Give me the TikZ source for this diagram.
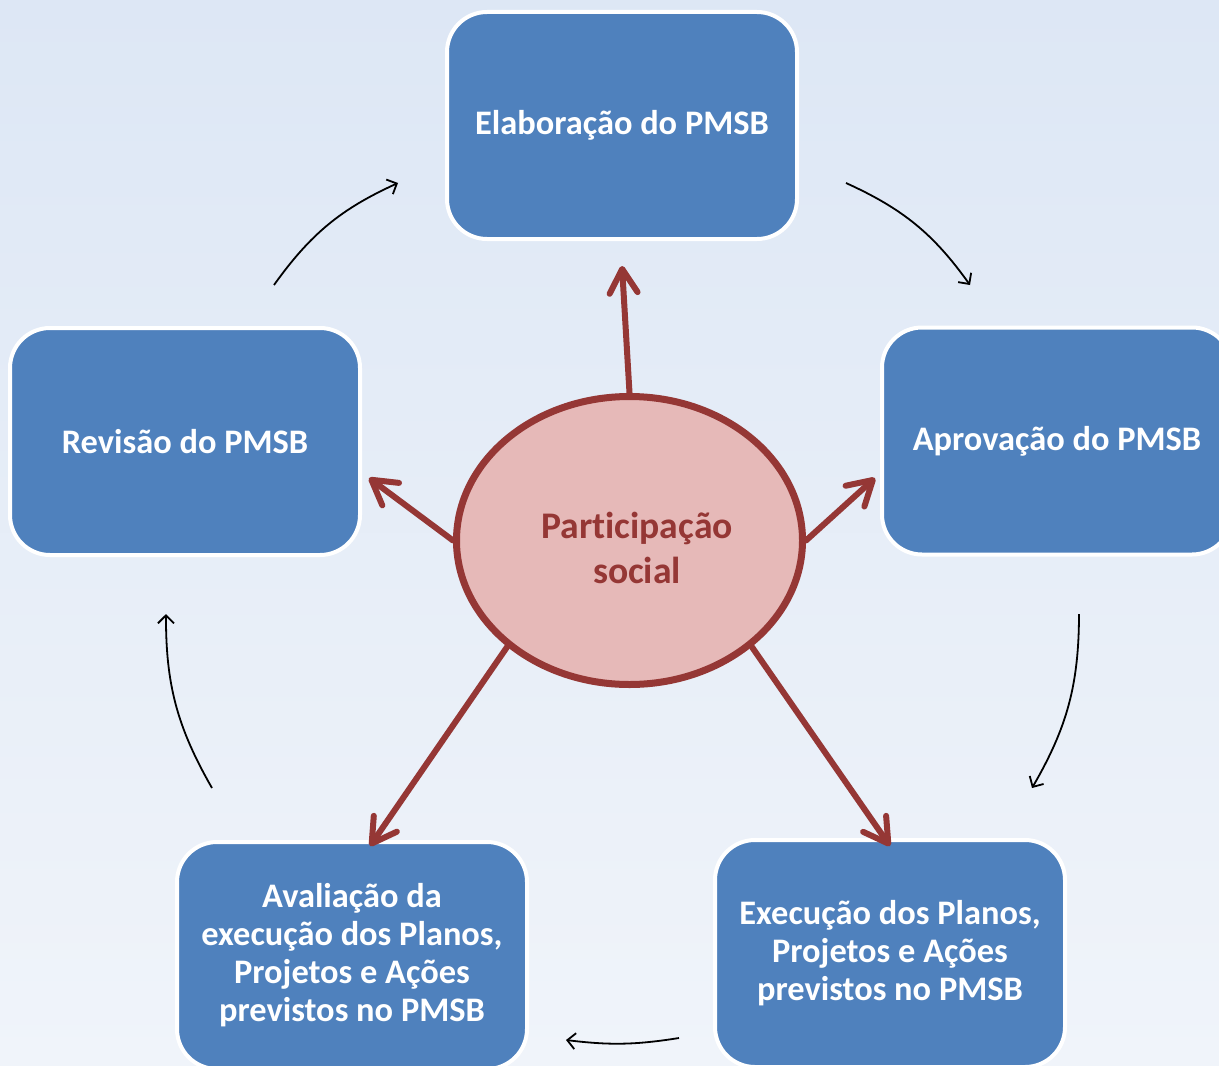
\documentclass[tikz,border=0pt]{standalone}
\usepackage{fontspec}
\setmainfont[Ligatures=CommonOff]{Carlito}
\usetikzlibrary{arrows.meta,shapes.geometric}
\definecolor{boxblue}{RGB}{79,129,189}
\definecolor{redline}{RGB}{149,55,53}
\definecolor{pinkfill}{RGB}{230,185,184}
\definecolor{bgtop}{RGB}{221,231,245}
\definecolor{bgbot}{RGB}{240,244,250}
\tikzset{
  stagebox/.style={rectangle, rounded corners=20pt, draw=white, line width=2pt,
    fill=boxblue, text=white, font=\bfseries\fontsize{17.2}{19}\selectfont,
    align=center, minimum width=175pt, minimum height=113.5pt, inner sep=0pt},
  centerell/.style={ellipse, draw=redline, line width=3.5pt, fill=pinkfill,
    minimum width=173pt, minimum height=144pt, inner sep=0pt},
  centertext/.style={text=redline, font=\bfseries\fontsize{18.8}{22.5}\selectfont,
    align=center, inner sep=0pt},
  redarrow/.style={draw=redline, line width=3pt, line cap=round,
    -{Straight Barb[length=12pt,width=14pt,line cap=round,line join=round]}},
  cyclearrow/.style={draw=black, line width=0.9pt,
    -{Straight Barb[length=4pt,width=8pt]}, bend left=#1},
  cyclearrow/.default=15
}
\begin{document}
\begin{tikzpicture}[x=0.5pt,y=-0.5pt]
\useasboundingbox (0,0) rectangle (1219,1065);
\shade[shading angle=20, top color=bgtop, bottom color=bgbot] (0,0) rectangle (1219,1065);
\begin{scope}
\clip (0,0) rectangle (1219,1065);
\node[stagebox] (elab) at (622,125.5) {Elaboração do PMSB};
\node[stagebox] (aprov) at (1057,441) {Aprovação do PMSB};
\node[stagebox] (exec) at (890,953.5) {Execução dos Planos,\\Projetos e Ações\\previstos no PMSB};
\node[stagebox] (aval) at (352,955.5) {Avaliação da\\execução dos Planos,\\Projetos e Ações\\previstos no PMSB};
\node[stagebox] (rev) at (185,441.5) {Revisão do PMSB};
\end{scope}
\node[centerell] (part) at (629.5,540.5) {};
\node[centertext] (parttext) at (637,548) {Participação\\social};

% red arrow tips
\coordinate (tElab) at (622,266);
\coordinate (tAprov) at (875,478);
\coordinate (tExec) at (890,846);
\coordinate (tAval) at (370,846);
\coordinate (tRev) at (369,478);
\draw[redarrow] (part.north) -- (tElab);
\draw[redarrow] (part.east) -- (tAprov);
\draw[redarrow] (part.-41) -- (tExec);
\draw[redarrow] (part.221) -- (tAval);
\draw[redarrow] (part.west) -- (tRev);

% cycle arrow ends
\coordinate (a1s) at (846,183);  \coordinate (a1e) at (970,285);
\coordinate (a2s) at (1079,614); \coordinate (a2e) at (1032,788);
\coordinate (a3s) at (679,1038); \coordinate (a3e) at (566,1040);
\coordinate (a4s) at (212,788);  \coordinate (a4e) at (166,614);
\coordinate (a5s) at (274,285);  \coordinate (a5e) at (398,183);
\draw[cyclearrow] (a1s) to (a1e);
\draw[cyclearrow] (a2s) to (a2e);
\draw[cyclearrow=8] (a3s) to (a3e);
\draw[cyclearrow] (a4s) to (a4e);
\draw[cyclearrow] (a5s) to (a5e);
\end{tikzpicture}
\end{document}
